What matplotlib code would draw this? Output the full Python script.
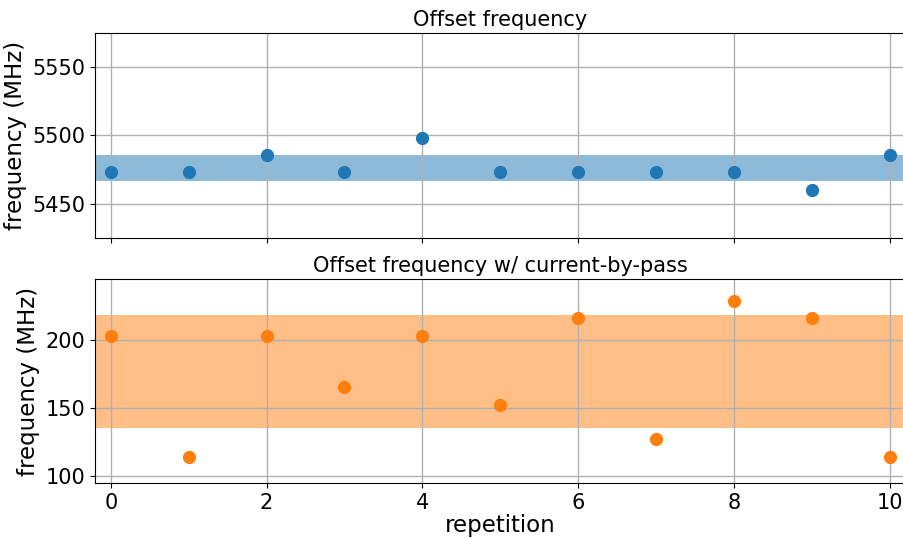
import matplotlib.pyplot as plt
import numpy as np

# repetition index and measured offset frequencies (MHz)
repetition = np.arange(11)
offset_freq = [5472.9, 5472.9, 5485.6, 5472.9, 5498.3, 5472.9,
               5472.9, 5472.9, 5472.9, 5460.2, 5485.6]
offset_freq_bypass = [203.1, 114.2, 203.1, 165.0, 203.1, 152.3,
                      215.8, 126.9, 228.5, 215.8, 114.2]

plt.rcParams['font.family'] = 'DejaVu Sans'

fig, (ax1, ax2) = plt.subplots(2, 1, sharex=True, figsize=(9.04, 5.38), dpi=100)
fig.subplots_adjust(left=0.1054, right=1.0012, bottom=0.1017, top=0.9387, hspace=0.2)


def draw_panel(ax, y, color, title):
    y = np.asarray(y)
    m, s = y.mean(), y.std()
    # mean +- std band
    ax.axhspan(m - s, m + s, color=color, alpha=0.5, lw=0)
    ax.plot(repetition, y, 'o', color=color, ms=8.5)
    ax.set_title(title, fontsize=15, pad=5)
    ax.set_ylabel("frequency (MHz)", fontsize=16.5)
    ax.tick_params(labelsize=15)
    ax.grid(True, color='#b0b0b0', lw=1)


draw_panel(ax1, offset_freq, 'C0', "Offset frequency")
draw_panel(ax2, offset_freq_bypass, 'C1', "Offset frequency w/ current-by-pass")

ax1.set_ylim(5425, 5575)
ax1.set_yticks([5450, 5500, 5550])
ax2.set_ylim(94.6, 245)
ax2.set_yticks([100, 150, 200])
ax2.set_xlim(-0.2, 10.2)
ax2.set_xticks(range(0, 11, 2))
ax2.set_xlabel("repetition", fontsize=16.5, labelpad=0.5)

plt.savefig("out.png", dpi=100)
